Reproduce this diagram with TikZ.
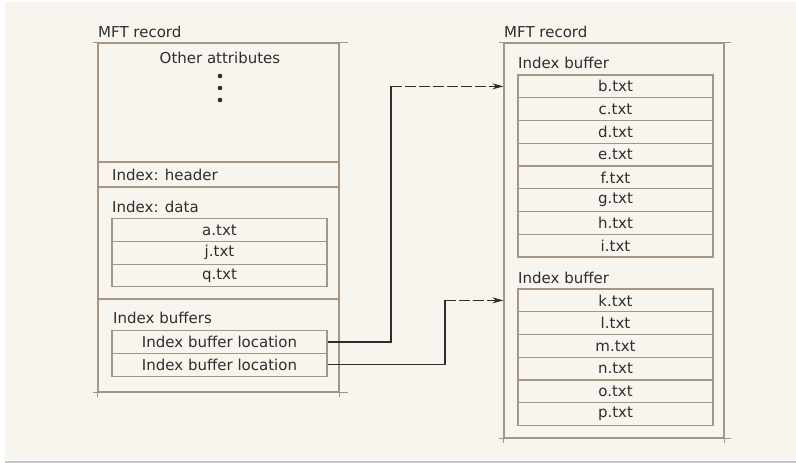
\documentclass[tikz,border=0pt]{standalone}
\usepackage{fontspec}
\setmainfont{DejaVu Sans}
\usetikzlibrary{arrows.meta}
\definecolor{bg}{HTML}{F8F4EE}
\definecolor{frame}{HTML}{A89684}
\definecolor{ink}{HTML}{2E2E2E}
\begin{document}
\begin{tikzpicture}[x=1pt,y=-1pt,
  font=\fontsize{15}{18}\selectfont, text=ink,
  frameline/.style={draw=frame, line width=1.2pt},
  row/.style={frameline, rectangle, inner sep=0pt, minimum height=22.75pt},
  lrow/.style={row, minimum width=215pt},
  rrow/.style={row, minimum width=195pt},
  lbl/.style={inner sep=0pt, anchor=west},
  conn/.style={draw=ink, line width=1.1pt},
  tip/.style={-{Stealth[length=11pt,width=6pt]}},
  brk/.style={dash pattern=on 11pt off 3pt}]
% background
\useasboundingbox (0,0) rectangle (796,463);
\fill[white] (0,0) rectangle (796,463);
\fill[bg] (5,2) rectangle (796,460);
\draw[gray!45, line width=2pt] (5,461.5) -- (796,461.5);

% ---------- left MFT record ----------
\node[lbl] (t1) at (98,32) {MFT record};
\node[frameline, rectangle, inner sep=0pt, minimum width=241pt, minimum height=349pt] (rec1) at (218.5,217.5) {};
\draw[frameline] ([xshift=-4pt]rec1.north west) -- ([xshift=8pt]rec1.north east);
\draw[frameline] ([xshift=-4pt]rec1.south west) -- ([xshift=8pt]rec1.south east);
\draw[frameline] (rec1.south west) -- ++(0,4);
\draw[frameline] (rec1.south east) -- ++(0,4);

\node (oa) at (220,58) {Other attributes};
\fill[ink] (220,76) circle (2.3pt) (220,88) circle (2.3pt) (220,100) circle (2.3pt);

\draw[frameline] (rec1.west |- 0,162) -- (rec1.east |- 0,162);
\draw[frameline] (rec1.west |- 0,187) -- (rec1.east |- 0,187);
\draw[frameline] (rec1.west |- 0,299) -- (rec1.east |- 0,299);

\node[lbl] (ih) at (112,175) {Index: header};
\node[lbl] (id) at (112,207) {Index: data};
\node[lrow] (a) at (219.5,230) {a.txt};
\node[lrow] (j) at (219.5,252.75) {j.txt};
\node[lrow] (q) at (219.5,275.5) {q.txt};
\draw[frameline] ([yshift=-3pt]a.north west) -- ([yshift=3pt]q.south west);
\draw[frameline] ([yshift=-3pt]a.north east) -- ([yshift=3pt]q.south east);

\node[lbl] (ib) at (113,318) {Index buffers};
\node[lrow] (l1) at (219.5,342) {Index buffer location};
\node[lrow] (l2) at (219.5,364.75) {Index buffer location};
\draw[frameline] ([yshift=-3pt]l1.north west) -- ([yshift=3pt]l2.south west);
\draw[frameline] ([yshift=-3pt]l1.north east) -- ([yshift=3pt]l2.south east);

% ---------- right MFT record ----------
\node[lbl] (t2) at (504,32) {MFT record};
\node[frameline, rectangle, inner sep=0pt, minimum width=220pt, minimum height=395pt] (rec2) at (614,240.5) {};
\draw[frameline] ([xshift=-4pt]rec2.north west) -- ([xshift=6pt]rec2.north east);
\draw[frameline] ([xshift=-4pt]rec2.south west) -- ([xshift=6pt]rec2.south east);
\draw[frameline] (rec2.south west) -- ++(0,4);
\draw[frameline] (rec2.south east) -- ++(0,4);

\node[lbl] (ibf1) at (518,63) {Index buffer};
\foreach \n [count=\i from 0] in {b,c,d,e,f,g,h,i}
  \node[rrow] (\n) at (615.5,86.375+22.75*\i) {\n.txt};
\draw[frameline] ([yshift=-3pt]b.north west) -- ([yshift=3pt]i.south west);
\draw[frameline] ([yshift=-3pt]b.north east) -- ([yshift=3pt]i.south east);

\node[lbl] (ibf2) at (518,278) {Index buffer};
\foreach \n [count=\i from 0] in {k,l,m,n,o,p}
  \node[rrow] (\n) at (615.5,300.375+22.75*\i) {\n.txt};
\draw[frameline] ([yshift=-3pt]k.north west) -- ([yshift=3pt]p.south west);
\draw[frameline] ([yshift=-3pt]k.north east) -- ([yshift=3pt]p.south east);

% ---------- connectors ----------
\coordinate (k1) at (391,0);
\coordinate (k2) at (445,0);
\draw[conn] (l1.east) -| (k1 |- b.center);
\draw[conn, brk, tip] (k1 |- b.center) -- (rec2.west |- b.center);
\draw[conn] (l2.east) -| (k2 |- k.center);
\draw[conn, brk, tip] (k2 |- k.center) -- (rec2.west |- k.center);
\end{tikzpicture}
\end{document}
